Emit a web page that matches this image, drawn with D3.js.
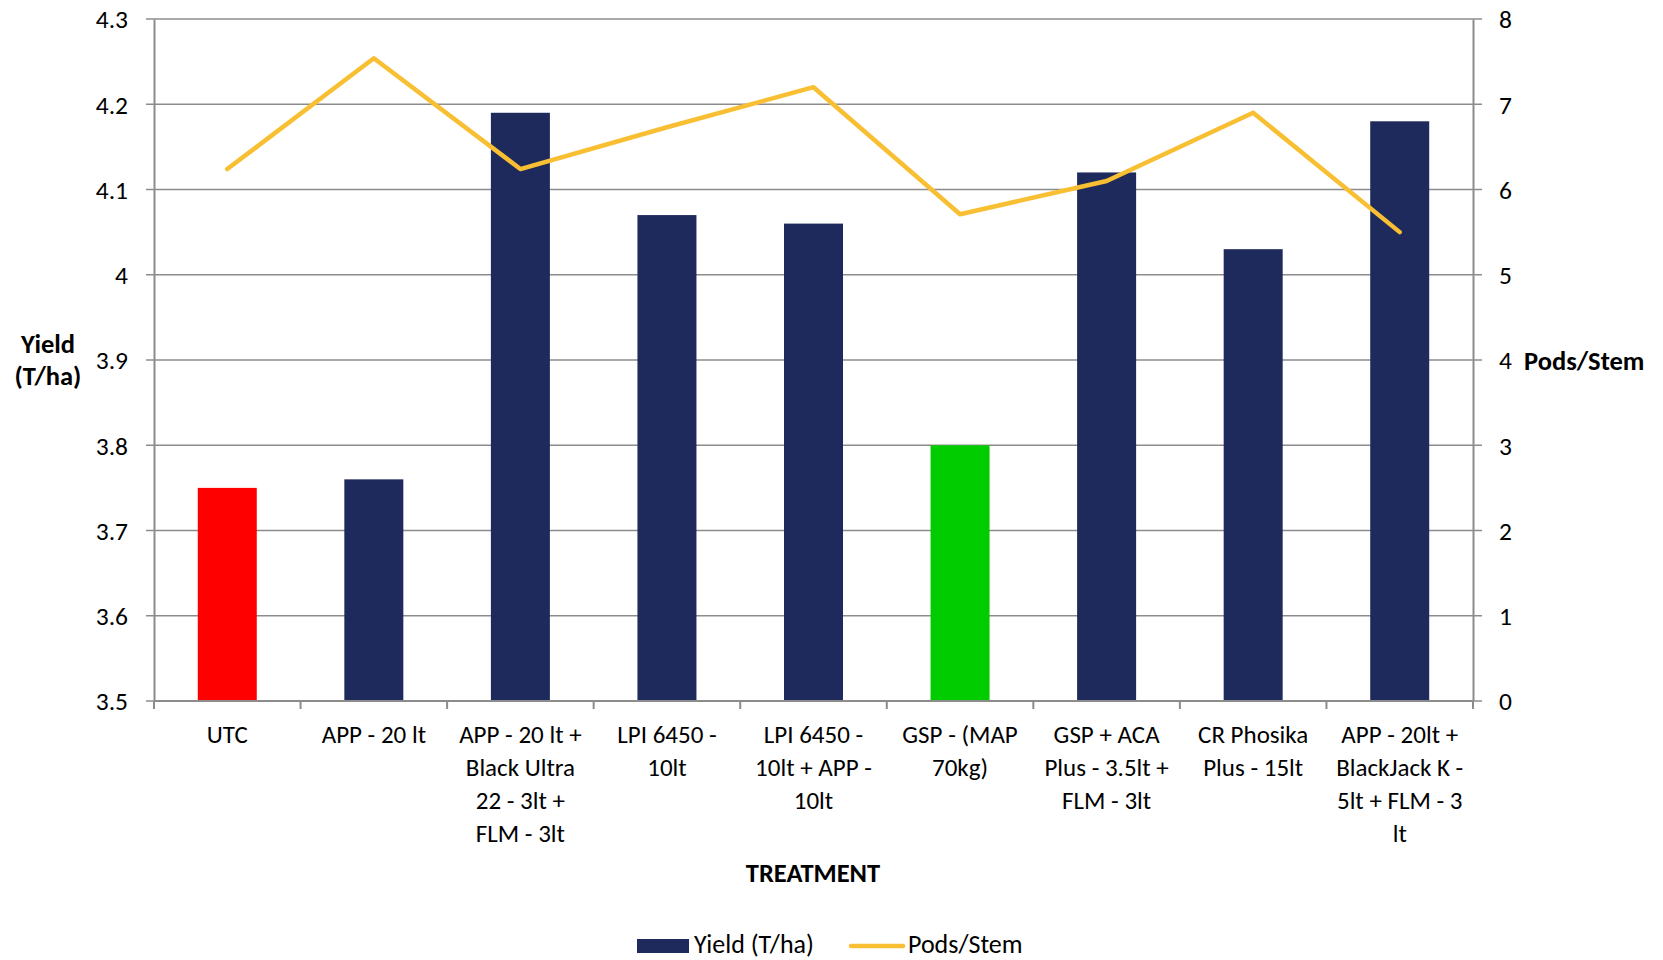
<!DOCTYPE html>
<html>
<head>
<meta charset="utf-8">
<script src="https://cdn.jsdelivr.net/npm/d3@7"></script>
<style>
  body { margin: 0; background: #fff; }
  text { font-family: Carlito, Calibri, Lato, sans-serif; fill: #000; }
</style>
</head>
<body>
<svg id="chart" width="1663" height="960"></svg>
<script>
var categories = [
  ['UTC'],
  ['APP - 20 lt'],
  ['APP - 20 lt +', 'Black Ultra', '22 - 3lt +', 'FLM - 3lt'],
  ['LPI 6450 -', '10lt'],
  ['LPI 6450 -', '10lt + APP -', '10lt'],
  ['GSP - (MAP', '70kg)'],
  ['GSP + ACA', 'Plus - 3.5lt +', 'FLM - 3lt'],
  ['CR Phosika', 'Plus - 15lt'],
  ['APP - 20lt +', 'BlackJack K -', '5lt + FLM - 3', 'lt']
]
var yieldValues = [3.75, 3.76, 4.19, 4.07, 4.06, 3.80, 4.12, 4.03, 4.18]
var podsValues = [6.24, 7.54, 6.24, 6.73, 7.2, 5.71, 6.1, 6.9, 5.5]
var barColors = ['#ff0000', '#1f2a5c', '#1f2a5c', '#1f2a5c', '#1f2a5c', '#00cc00', '#1f2a5c', '#1f2a5c', '#1f2a5c']
var yieldTicks = [3.5, 3.6, 3.7, 3.8, 3.9, 4, 4.1, 4.2, 4.3]
var podsTicks = [0, 1, 2, 3, 4, 5, 6, 7, 8]

;(function() {
  var svg = d3.select('#chart')
  var mLeft = 154, mRight = 1473, mTop = 19, mBottom = 701
  var grey = '#8c8c8c'

  var xs = d3.scaleBand().domain(d3.range(categories.length)).range([mLeft, mRight])
  var y = d3.scaleLinear().domain([3.5, 4.3]).range([mBottom, mTop])
  var y2 = d3.scaleLinear().domain([0, 8]).range([mBottom, mTop])
  var cx = i => xs(i) + xs.bandwidth() / 2

  // gridlines
  svg.append('g')
    .selectAll('line')
    .data(yieldTicks)
    .enter()
    .append('line')
    .attr('x1', mLeft - 8)
    .attr('x2', mRight + 9)
    .attr('y1', d => y(d))
    .attr('y2', d => y(d))
    .style('stroke', grey)
    .style('stroke-width', 1.3)

  // bars
  svg.append('g')
    .selectAll('rect')
    .data(yieldValues)
    .enter()
    .append('rect')
    .attr('x', (d, i) => cx(i) - 29.5)
    .attr('width', 59)
    .attr('y', d => y(d))
    .attr('height', d => mBottom - y(d))
    .style('fill', (d, i) => barColors[i])

  // axes
  var leftAxis = svg.append('g')
    .attr('transform', 'translate(' + mLeft + ',0)')
    .call(d3.axisLeft(y).tickValues(yieldTicks).tickFormat(d3.format('')).tickSize(0).tickPadding(26))
  var rightAxis = svg.append('g')
    .attr('transform', 'translate(' + mRight + ',0)')
    .call(d3.axisRight(y2).tickValues(podsTicks).tickSize(0).tickPadding(26))
  ;[leftAxis, rightAxis].forEach(a => {
    a.select('.domain').style('stroke', grey).style('stroke-width', 2)
    a.selectAll('text').style('font-size', '25.5px').style('font-family', null).attr('dy', '0.35em')
  })

  // bottom axis line and ticks
  svg.append('line')
    .attr('x1', mLeft).attr('x2', mRight)
    .attr('y1', mBottom).attr('y2', mBottom)
    .style('stroke', grey).style('stroke-width', 2)
  svg.append('g')
    .selectAll('line')
    .data(d3.range(categories.length + 1))
    .enter()
    .append('line')
    .attr('x1', d => mLeft + d * xs.step())
    .attr('x2', d => mLeft + d * xs.step())
    .attr('y1', mBottom)
    .attr('y2', mBottom + 8)
    .style('stroke', grey)
    .style('stroke-width', 2)

  // pods line
  var line = d3.line()
    .x((d, i) => cx(i))
    .y(d => y2(d))
  svg.append('path')
    .datum(podsValues)
    .attr('d', line)
    .style('fill', 'none')
    .style('stroke', '#f9bf33')
    .style('stroke-width', 4.5)
    .style('stroke-linecap', 'round')
    .style('stroke-linejoin', 'round')

  // category labels
  var catLabels = svg.append('g')
    .selectAll('g')
    .data(categories)
    .enter()
    .append('g')
    .attr('transform', (d, i) => 'translate(' + cx(i) + ',743)')
  catLabels.selectAll('text')
    .data(d => d)
    .enter()
    .append('text')
    .attr('y', (d, i) => i * 33)
    .attr('text-anchor', 'middle')
    .style('font-size', '25px')
    .text(d => d)

  // axis titles
  var yt = svg.append('text')
    .attr('text-anchor', 'middle')
    .style('font-size', '26.5px')
    .style('font-weight', 'bold')
  yt.append('tspan').attr('x', 48).attr('y', 353).text('Yield')
  yt.append('tspan').attr('x', 48).attr('y', 385).text('(T/ha)')

  svg.append('text')
    .attr('x', 1524)
    .attr('y', 370)
    .style('font-size', '26.5px')
    .style('font-weight', 'bold')
    .text('Pods/Stem')

  svg.append('text')
    .attr('x', 813)
    .attr('y', 882)
    .attr('text-anchor', 'middle')
    .style('font-size', '26.5px')
    .style('font-weight', 'bold')
    .text('TREATMENT')

  // legend
  var legend = svg.append('g')
  legend.append('rect')
    .attr('x', 637).attr('y', 939).attr('width', 52).attr('height', 14)
    .style('fill', '#1f2a5c')
  legend.append('text')
    .attr('x', 694).attr('y', 953)
    .style('font-size', '26px')
    .text('Yield (T/ha)')
  legend.append('line')
    .attr('x1', 851).attr('x2', 903).attr('y1', 946).attr('y2', 946)
    .style('stroke', '#f9bf33').style('stroke-width', 4.5).style('stroke-linecap', 'round')
  legend.append('text')
    .attr('x', 908).attr('y', 953)
    .style('font-size', '26px')
    .text('Pods/Stem')
})()
</script>
</body>
</html>
